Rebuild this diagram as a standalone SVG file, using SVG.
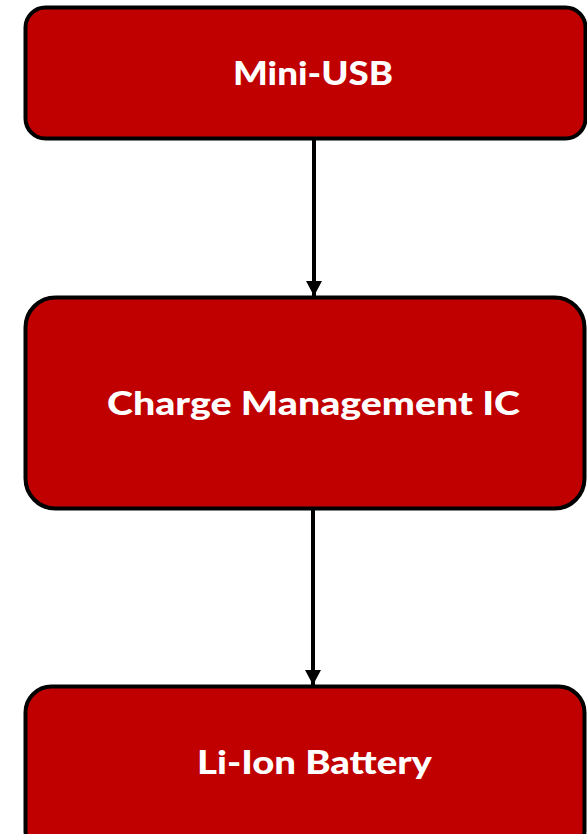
<svg xmlns="http://www.w3.org/2000/svg" width="587" height="834" viewBox="0 0 587 834">
  <defs>
    <marker id="arrow" markerWidth="16" markerHeight="16" refX="15" refY="8" orient="auto" markerUnits="userSpaceOnUse">
      <path d="M0,0 L15,8 L0,16 Z" fill="#000"/>
    </marker>
    <style>
      .box { fill: #C00000; stroke: #000; stroke-width: 4; }
      .label { fill: #fff; font-family: Lato, "Open Sans", "Liberation Sans", sans-serif; font-weight: 900; font-size: 33px; text-anchor: middle; }
      .wire { stroke: #000; stroke-width: 4; fill: none; }
    </style>
  </defs>
  <rect width="587" height="834" fill="#fff"/>

  <g id="connectors">
    <line class="wire" x1="314" y1="139" x2="314" y2="296" marker-end="url(#arrow)"/>
    <line class="wire" x1="313" y1="509" x2="313" y2="685" marker-end="url(#arrow)"/>
  </g>

  <g id="mini-usb">
    <rect class="box" x="25.5" y="7.5" width="560" height="131" rx="20" ry="20"/>
    <text class="label" x="313" y="85" textLength="160" lengthAdjust="spacingAndGlyphs">Mini-USB</text>
  </g>

  <g id="charge-ic">
    <rect class="box" x="25.5" y="297.5" width="559" height="211" rx="30" ry="30"/>
    <text class="label" x="313.5" y="415" textLength="413" lengthAdjust="spacingAndGlyphs">Charge Management IC</text>
  </g>

  <g id="battery">
    <rect class="box" x="25.5" y="686.5" width="559" height="170" rx="26" ry="26"/>
    <text class="label" x="314.5" y="774" textLength="235" lengthAdjust="spacingAndGlyphs">Li-Ion Battery</text>
  </g>
</svg>
